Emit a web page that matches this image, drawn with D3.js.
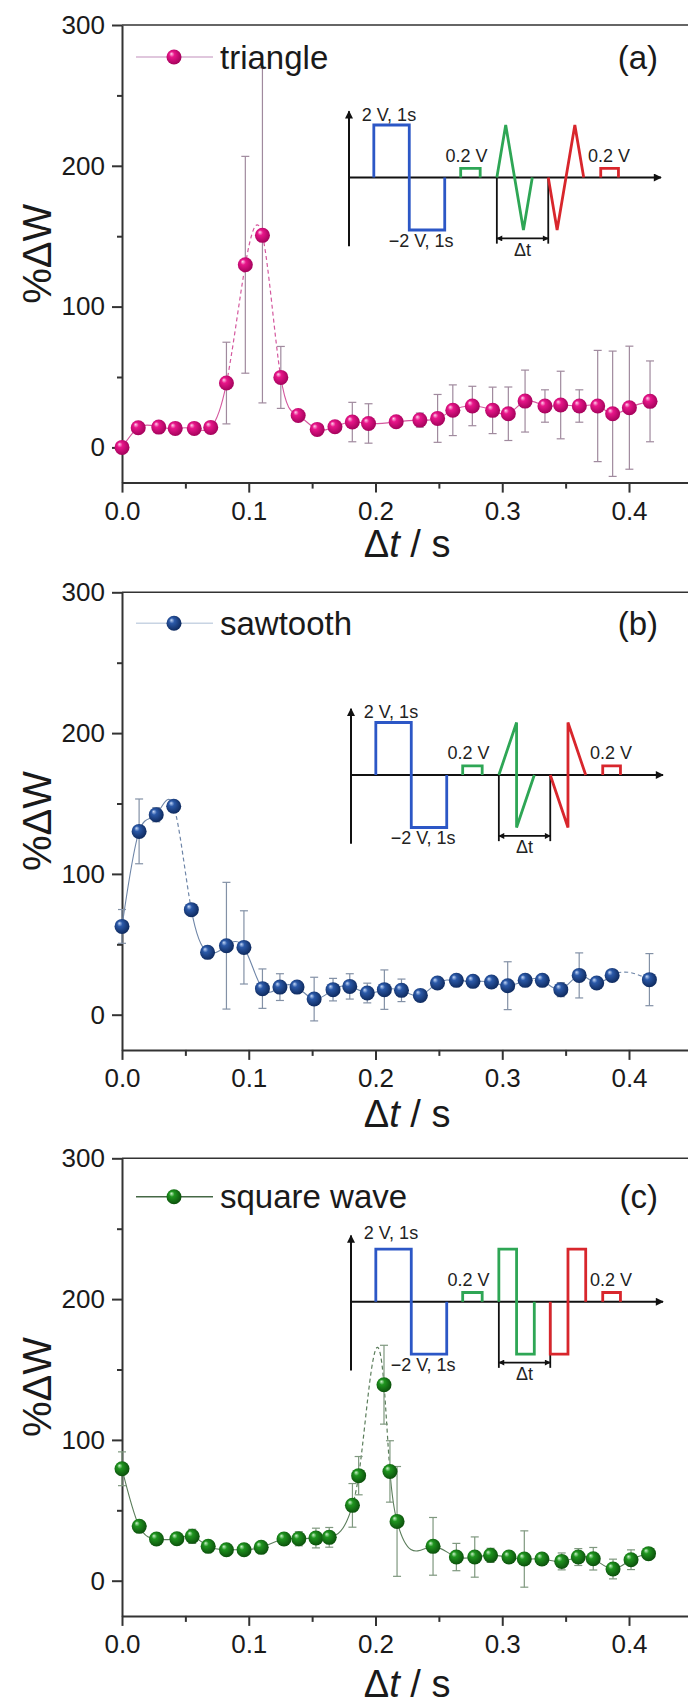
<!DOCTYPE html>
<html>
<head>
<meta charset="utf-8">
<script src="https://cdn.jsdelivr.net/npm/d3@7/dist/d3.min.js"></script>
<style>
  body { margin: 0; background: #fff; }
  svg { display: block; font-family: "Liberation Sans", Arial, sans-serif; }
</style>
</head>
<body>
<svg id="chart" width="688" height="1705"></svg>
<script>
// ---- data ----
var xTicks = [0, 0.1, 0.2, 0.3, 0.4];
var xMinor = [0.05, 0.15, 0.25, 0.35];
var yTicks = [0, 100, 200, 300];
var yMinor = [50, 150, 250];

// (a) triangle
var triT = [0, 0.0128, 0.029, 0.042, 0.057, 0.070, 0.0824, 0.0973, 0.1108, 0.1253, 0.139, 0.154, 0.168, 0.1817, 0.1945,
            0.2163, 0.235, 0.249, 0.261, 0.2764, 0.2924, 0.3048, 0.318, 0.3337, 0.3461, 0.3608, 0.3753, 0.3871, 0.4003, 0.4166];
var triV = [0, 14.0, 14.4, 13.5, 13.5, 14.2, 45.7, 129.7, 150.6, 49.7, 22.7, 12.8, 14.7, 18.0, 17.0,
            18.2, 19.4, 20.6, 26.4, 29.4, 26.3, 23.9, 32.9, 29.4, 30.1, 29.4, 29.4, 23.9, 28.2, 32.7];
var triE = [0, 0, 0, 0, 0, 0, 29, 77, 119, 22, 0, 0, 0, 14, 14,
            0, 5, 17, 18, 14, 16.5, 19, 22, 11.5, 24, 11.5, 39.5, 44.5, 43.7, 28.7];
var triDash = [[0.0824, 0.1253]];

// (b) sawtooth
var sawT = [0, 0.0135, 0.027, 0.0408, 0.0547, 0.0675, 0.0824, 0.0962, 0.1108, 0.1246, 0.1381, 0.1516, 0.1665, 0.1797, 0.1935,
            0.207, 0.2205, 0.2354, 0.2489, 0.2638, 0.2769, 0.2915, 0.3043, 0.3181, 0.3316, 0.3462, 0.3607, 0.3745, 0.3867, 0.4161];
var sawV = [62.7, 130.2, 142, 148, 74.6, 44.3, 49, 47.8, 18.5, 19.6, 19.6, 11.1, 17.8, 20.1, 15.4,
            17.8, 17.3, 13.7, 22.5, 24.4, 23.7, 23.2, 20.6, 24.4, 24.4, 17.8, 27.9, 22.5, 27.9, 24.9];
var sawE = [12, 23, 5, 3, 0, 0, 45, 26, 14, 9.5, 0, 15.5, 8, 9, 7,
            14, 8, 0, 0, 0, 3, 0, 17, 0, 0, 5, 16, 0, 0, 18.5];
var sawDash = [[0.0408, 0.0547], [0.3867, 0.4161]];

// (c) square wave
var sqT = [0, 0.0136, 0.0272, 0.0433, 0.0554, 0.068, 0.0824, 0.0963, 0.1098, 0.1278, 0.1395, 0.153, 0.1635, 0.1818, 0.1867,
           0.2067, 0.2114, 0.217, 0.2454, 0.2638, 0.2783, 0.2908, 0.3053, 0.3174, 0.3313, 0.3469, 0.36, 0.3718, 0.3874, 0.4016, 0.4154];
var sqV = [79.5, 38.6, 29.6, 29.8, 31.5, 24.4, 22, 22, 23.7, 29.6, 29.8, 30.3, 30.8, 53.5, 74.6,
           139.2, 77.6, 42.1, 24.4, 16.8, 16.8, 18, 16.8, 15.4, 15.4, 13.7, 16.8, 15.6, 8.3, 14.9, 19.2];
var sqE = [12, 3, 0, 0, 5, 0, 0, 4, 0, 4, 5, 7, 7, 15.5, 13.6,
           28, 21.8, 39, 20.5, 9.7, 14.3, 5, 0, 20, 0, 6, 6, 8, 7, 7, 0];
var sqDash = [[0.1818, 0.2114]];

// inset schematic (time in pulse units, level in volts; drawing is not to scale)
var pulseBlue = [[0.7, 0], [0.7, 2], [1.7, 2], [1.7, -2], [2.7, -2], [2.7, 0]];
var probeGreen = [[3.15, 0], [3.15, 0.35], [3.7, 0.35], [3.7, 0]];
var probeRed = [[7.1, 0], [7.1, 0.35], [7.6, 0.35], [7.6, 0]];
var greenWave = {
  triangle: [[4.17, 0], [4.42, 2], [4.92, -2], [5.17, 0]],
  sawtooth: [[4.17, 0], [4.67, 2], [4.67, -2], [5.17, 0]],
  square:   [[4.17, 0], [4.17, 2], [4.67, 2], [4.67, -2], [5.17, -2], [5.17, 0]]
};
var redWave = {
  triangle: [[5.62, 0], [5.87, -2], [6.37, 2], [6.62, 0]],
  sawtooth: [[5.62, 0], [6.12, -2], [6.12, 2], [6.62, 0]],
  square:   [[5.62, 0], [5.62, -2], [6.12, -2], [6.12, 2], [6.62, 2], [6.62, 0]]
};
var dtMarks = [4.17, 5.62];

// ---- layout ----
var left = 122,
    plotW = 0.45 * 1267.5,
    plotH = 457.6;

var panels = [
  {t: triT, v: triV, e: triE, dash: triDash, name: "triangle", tag: "(a)", wave: "triangle",
   top: 25, legY: 32, titleY: 532, inset: {x: 227, y: 152.5, capY: -57},
   mid: "#e8168a", dark: "#9e0057", light: "#ffd0ec", curve: "#d4589e", err: "#a08a9e", leg: "#d6b4d2"},
  {t: sawT, v: sawV, e: sawE, dash: sawDash, name: "sawtooth", tag: "(b)", wave: "sawtooth",
   top: 592.3, legY: 31, titleY: 535, inset: {x: 229, y: 182.7, capY: -57},
   mid: "#2b59a8", dark: "#0c2658", light: "#c4d8f8", curve: "#6f86a8", err: "#8391a6", leg: "#c8d4e3"},
  {t: sqT, v: sqV, e: sqE, dash: sqDash, name: "square wave", tag: "(c)", wave: "square",
   top: 1158.3, legY: 38.4, titleY: 539, inset: {x: 229, y: 143.4, capY: -63},
   mid: "#1f951f", dark: "#0a4a0a", light: "#caf3ca", curve: "#5b7d5b", err: "#7f987f", leg: "#456845"}
];

// cubic spline y(x) with natural ends, drawn as bezier segments (like the original software's spline)
function curveSplineX(context) {
  return {
    areaStart: function() {}, areaEnd: function() {},
    lineStart: function() { this._x = []; this._y = []; },
    point: function(px, py) { this._x.push(+px); this._y.push(+py); },
    lineEnd: function() {
      var xs = this._x, ys = this._y, n = xs.length - 1;
      if (n < 1) return;
      var h = [], i;
      for (i = 0; i < n; i++) h.push(xs[i + 1] - xs[i]);
      // solve for second derivatives
      var M = new Array(n + 1).fill(0);
      if (n > 1) {
        var a = [], b = [], c = [], r = [];
        for (i = 1; i < n; i++) {
          a.push(h[i - 1]);
          b.push(2 * (h[i - 1] + h[i]));
          c.push(h[i]);
          r.push(6 * ((ys[i + 1] - ys[i]) / h[i] - (ys[i] - ys[i - 1]) / h[i - 1]));
        }
        var m = b.length;
        for (i = 1; i < m; i++) {
          var w = a[i] / b[i - 1];
          b[i] -= w * c[i - 1];
          r[i] -= w * r[i - 1];
        }
        var sol = new Array(m);
        sol[m - 1] = r[m - 1] / b[m - 1];
        for (i = m - 2; i >= 0; i--) sol[i] = (r[i] - c[i] * sol[i + 1]) / b[i];
        for (i = 1; i < n; i++) M[i] = sol[i - 1];
      }
      var slope = [];
      for (i = 0; i < n; i++) slope.push((ys[i + 1] - ys[i]) / h[i] - h[i] * (2 * M[i] + M[i + 1]) / 6);
      slope.push((ys[n] - ys[n - 1]) / h[n - 1] + h[n - 1] * (M[n - 1] + 2 * M[n]) / 6);
      context.moveTo(xs[0], ys[0]);
      for (i = 0; i < n; i++) {
        var d = h[i] / 3;
        context.bezierCurveTo(xs[i] + d, ys[i] + slope[i] * d,
                              xs[i + 1] - d, ys[i + 1] - slope[i + 1] * d,
                              xs[i + 1], ys[i + 1]);
      }
    }
  };
}

var svg = d3.select("#chart");
var defs = svg.append("defs");

defs.append("marker")
    .attr("id", "arrow")
    .attr("viewBox", "0 0 10 10")
    .attr("refX", 9).attr("refY", 5)
    .attr("markerWidth", 10).attr("markerHeight", 8)
    .attr("markerUnits", "userSpaceOnUse")
    .attr("orient", "auto-start-reverse")
  .append("path")
    .attr("d", "M0,0L10,5L0,10z")
    .attr("fill", "#111");

defs.append("marker")
    .attr("id", "arrowSmall")
    .attr("viewBox", "0 0 10 10")
    .attr("refX", 9).attr("refY", 5)
    .attr("markerWidth", 7).attr("markerHeight", 6)
    .attr("markerUnits", "userSpaceOnUse")
    .attr("orient", "auto-start-reverse")
  .append("path")
    .attr("d", "M0,0L10,5L0,10z")
    .attr("fill", "#111");

var x = d3.scaleLinear().domain([0, 0.45]).range([0, plotW]);
var y = d3.scaleLinear().domain([-25, 300]).range([plotH, 0]);

// inset scales
var iu = d3.scaleLinear().domain([0, 8.8]).range([0, 312]);
var iv = d3.scaleLinear().domain([-2, 2]).range([52.5, -52.5]);

panels.forEach(function(p, pi) {
  var grad = defs.append("radialGradient")
      .attr("id", "ball" + pi)
      .attr("cx", "45%").attr("cy", "45%").attr("r", "60%")
      .attr("fx", "32%").attr("fy", "28%");
  grad.append("stop").attr("offset", "0%").attr("stop-color", p.light);
  grad.append("stop").attr("offset", "30%").attr("stop-color", p.mid);
  grad.append("stop").attr("offset", "100%").attr("stop-color", p.dark);

  var g = svg.append("g")
      .attr("transform", "translate(" + left + "," + p.top + ")");

  // axes
  g.append("g")
      .call(d3.axisLeft(y).tickValues(yTicks).tickSize(10).tickPadding(7).tickSizeOuter(0));
  g.append("g")
      .call(d3.axisLeft(y).tickValues(yMinor).tickSize(5).tickFormat(""))
      .select(".domain").remove();
  g.append("g")
      .attr("transform", "translate(0," + plotH + ")")
      .call(d3.axisBottom(x).tickValues(xTicks).tickFormat(d3.format(".1f"))
            .tickSize(10).tickPadding(9).tickSizeOuter(0));
  g.append("g")
      .attr("transform", "translate(0," + plotH + ")")
      .call(d3.axisBottom(x).tickValues(xMinor).tickSize(6).tickFormat(""))
      .select(".domain").remove();
  g.selectAll(".domain, .tick line").attr("stroke", "#333").attr("stroke-width", 2);
  g.selectAll(".tick text").attr("font-size", 26).attr("fill", "#1a1a1a")
      .attr("font-family", "'Liberation Sans', Arial, sans-serif");

  g.append("line")
      .attr("x1", 0).attr("x2", plotW)
      .attr("y1", y(300)).attr("y2", y(300))
      .attr("stroke", "#333").attr("stroke-width", 1.6);

  g.append("text")
      .attr("transform", "translate(" + (51 - left) + "," + (plotH / 2) + ") rotate(-90)")
      .attr("text-anchor", "middle")
      .attr("font-size", 40)
      .attr("fill", "#1a1a1a")
      .text("%ΔW");

  var xt = g.append("text")
      .attr("x", plotW / 2)
      .attr("y", p.titleY)
      .attr("text-anchor", "middle")
      .attr("font-size", 38)
      .attr("fill", "#1a1a1a");
  xt.append("tspan").text("Δ");
  xt.append("tspan").attr("font-style", "italic").text("t");
  xt.append("tspan").text(" / s");

  // data curve, split into solid and dashed parts by clip
  var pts = p.t.map(function(t, i) { return {t: t, v: p.v[i], e: p.e[i]}; });
  var line = d3.line()
      .x(function(d) { return x(d.t); })
      .y(function(d) { return y(d.v); })
      .curve(curveSplineX);

  var solidRanges = [], prev = -0.05;
  p.dash.forEach(function(r) { solidRanges.push([prev, r[0]]); prev = r[1]; });
  solidRanges.push([prev, 0.5]);

  var cpS = defs.append("clipPath").attr("id", "solid" + pi);
  cpS.selectAll("rect").data(solidRanges).enter().append("rect")
      .attr("x", function(d) { return x(d[0]); })
      .attr("width", function(d) { return x(d[1]) - x(d[0]); })
      .attr("y", -50).attr("height", plotH + 100);
  var cpD = defs.append("clipPath").attr("id", "dash" + pi);
  cpD.selectAll("rect").data(p.dash).enter().append("rect")
      .attr("x", function(d) { return x(d[0]); })
      .attr("width", function(d) { return x(d[1]) - x(d[0]); })
      .attr("y", -50).attr("height", plotH + 100);

  g.append("path")
      .attr("d", line(pts))
      .attr("fill", "none")
      .attr("stroke", p.curve)
      .attr("stroke-width", 1.1)
      .attr("clip-path", "url(#solid" + pi + ")");
  g.append("path")
      .attr("d", line(pts))
      .attr("fill", "none")
      .attr("stroke", p.curve)
      .attr("stroke-width", 1.2)
      .attr("stroke-dasharray", "4,3")
      .attr("clip-path", "url(#dash" + pi + ")");

  // error bars
  var eb = g.selectAll(".err")
      .data(pts.filter(function(d) { return d.e > 0; }))
    .enter().append("g")
      .attr("stroke", p.err)
      .attr("stroke-width", 1.2);
  eb.append("line")
      .attr("x1", function(d) { return x(d.t); }).attr("x2", function(d) { return x(d.t); })
      .attr("y1", function(d) { return y(d.v - d.e); }).attr("y2", function(d) { return y(d.v + d.e); });
  eb.append("line")
      .attr("x1", function(d) { return x(d.t) - 4; }).attr("x2", function(d) { return x(d.t) + 4; })
      .attr("y1", function(d) { return y(d.v + d.e); }).attr("y2", function(d) { return y(d.v + d.e); });
  eb.append("line")
      .attr("x1", function(d) { return x(d.t) - 4; }).attr("x2", function(d) { return x(d.t) + 4; })
      .attr("y1", function(d) { return y(d.v - d.e); }).attr("y2", function(d) { return y(d.v - d.e); });

  // sphere markers
  g.selectAll(".dot")
      .data(pts)
    .enter().append("circle")
      .attr("cx", function(d) { return x(d.t); })
      .attr("cy", function(d) { return y(d.v); })
      .attr("r", 7.5)
      .attr("fill", "url(#ball" + pi + ")");

  // inset schematic
  var ins = g.append("g")
      .attr("transform", "translate(" + p.inset.x + "," + p.inset.y + ")");
  var il = d3.line().x(function(d) { return iu(d[0]); }).y(function(d) { return iv(d[1]); });

  ins.append("line")
      .attr("x1", iu(0)).attr("x2", iu(0))
      .attr("y1", iv(-2.62)).attr("y2", iv(2.52))
      .attr("stroke", "#111").attr("stroke-width", 2)
      .attr("marker-end", "url(#arrow)");
  ins.append("line")
      .attr("x1", iu(0)).attr("x2", iu(8.8))
      .attr("y1", iv(0)).attr("y2", iv(0))
      .attr("stroke", "#111").attr("stroke-width", 2)
      .attr("marker-end", "url(#arrow)");

  ins.selectAll(".dt")
      .data(dtMarks)
    .enter().append("line")
      .attr("x1", function(d) { return iu(d); }).attr("x2", function(d) { return iu(d); })
      .attr("y1", iv(0)).attr("y2", iv(-2.52))
      .attr("stroke", "#111").attr("stroke-width", 1.8);
  ins.append("line")
      .attr("x1", iu(dtMarks[0])).attr("x2", iu(dtMarks[1]))
      .attr("y1", iv(-2.32)).attr("y2", iv(-2.32))
      .attr("stroke", "#111").attr("stroke-width", 1.6)
      .attr("marker-start", "url(#arrowSmall)")
      .attr("marker-end", "url(#arrowSmall)");

  var waves = [
    {pts: pulseBlue, c: "#2c57c6"},
    {pts: probeGreen, c: "#2ea655"},
    {pts: greenWave[p.wave], c: "#2ea655"},
    {pts: redWave[p.wave], c: "#d8262c"},
    {pts: probeRed, c: "#d8262c"}
  ];
  ins.selectAll(".wave")
      .data(waves)
    .enter().append("path")
      .attr("d", function(d) { return il(d.pts); })
      .attr("fill", "none")
      .attr("stroke", function(d) { return d.c; })
      .attr("stroke-width", 2.8)
      .attr("stroke-linejoin", "miter");

  var labels = [
    {u: 0.36, yy: p.inset.capY, s: "2 V, 1s", a: "start"},
    {u: 1.12, yy: 69, s: "−2 V, 1s", a: "start"},
    {u: 2.72, yy: -16, s: "0.2 V", a: "start"},
    {u: 6.74, yy: -16, s: "0.2 V", a: "start"},
    {u: (dtMarks[0] + dtMarks[1]) / 2, yy: 78, s: "Δt", a: "middle"}
  ];
  ins.selectAll(".lab")
      .data(labels)
    .enter().append("text")
      .attr("x", function(d) { return iu(d.u); })
      .attr("y", function(d) { return d.yy; })
      .attr("text-anchor", function(d) { return d.a; })
      .attr("font-size", 18)
      .attr("fill", "#222")
      .text(function(d) { return d.s; });

  // legend
  var leg = g.append("g").attr("transform", "translate(0," + p.legY + ")");
  leg.append("line")
      .attr("x1", 14).attr("x2", 91)
      .attr("stroke", p.leg).attr("stroke-width", 1.6);
  leg.append("circle")
      .attr("cx", 52).attr("r", 7.5)
      .attr("fill", "url(#ball" + pi + ")");
  leg.append("text")
      .attr("x", 98).attr("y", 11.5)
      .attr("font-size", 33).attr("fill", "#1a1a1a")
      .text(p.name);
  leg.append("text")
      .attr("x", 658 - left).attr("y", 11.5)
      .attr("text-anchor", "end")
      .attr("font-size", 33).attr("fill", "#1a1a1a")
      .text(p.tag);
});
</script>
</body>
</html>
